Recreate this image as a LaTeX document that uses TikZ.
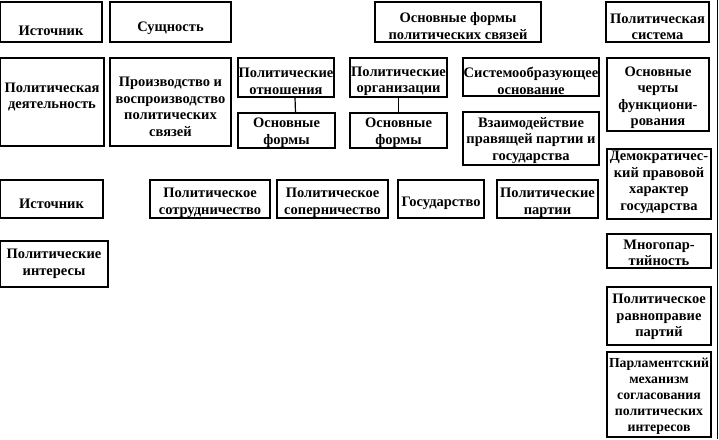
\documentclass[tikz,border=0pt]{standalone}
\usepackage{fontspec}
\setmainfont{Liberation Serif}
\usepackage{tikz}
\usetikzlibrary{calc}

\tikzset{
  blok/.style={draw, line width=1.2pt, align=center, inner xsep=0.5pt, inner ysep=0.5pt,
    font=\fontsize{14.5}{16.5}\selectfont\bfseries},
  niz/.style={execute at begin node={\rule{0pt}{#1}}},
  verh/.style={execute at end node={\rule[-#1]{0pt}{#1}}},
}

\begin{document}
\begin{tikzpicture}[x=1pt, y=-1pt]
        \useasboundingbox (0,0) rectangle (719,439);

        \node[blok, niz=28pt, minimum width=102, minimum height=40] (ist1) at (51,22) {Источник};
        \node[blok, niz=22pt, minimum width=121, minimum height=40] (sush) at (170.5,22) {Сущность};
        \node[blok, niz=34.5pt, minimum width=166, minimum height=40] (formy) at (458,22) {Основные формы\\политических связей};
        \node[blok, niz=36pt, minimum width=103, minimum height=40] (sist) at (657.5,22) {Политическая\\система};

        \node[blok, verh=12pt, minimum width=104, minimum height=88] (deyat) at (52,102) {Политическая\\деятельность};
        \node[blok, niz=68.5pt, minimum width=121, minimum height=88] (proizv) at (170.5,102) {Производство и\\воспроизводство\\политических\\связей};
        \node[blok, niz=33.5pt, minimum width=96, minimum height=39] (otn) at (286,77.5) {Политические\\отношения};
        \node[blok, niz=33.5pt, minimum width=97, minimum height=39] (org) at (398.5,77.5) {Политические\\организации};
        \node[blok, niz=34.5pt, minimum width=136, minimum height=38] (osnov) at (531,77) {Системообразующее\\основание};
        \node[blok, niz=65.5pt, minimum width=102, minimum height=73] (cherty) at (658,94.5) {Основные\\черты\\функциони-\\рования};

        \node[blok, niz=30.5pt, minimum width=97, minimum height=35] (otnf) at (286.5,130.5) {Основные\\формы};
        \node[blok, niz=30.5pt, minimum width=97, minimum height=35] (orgf) at (398.5,130.5) {Основные\\формы};
        \node[blok, niz=47pt, minimum width=136, minimum height=53] (vzaim) at (531,138.5) {Взаимодействие\\правящей партии и\\государства};
        \node[blok, verh=7pt, minimum width=104, minimum height=70] (demokr) at (659,184) {Демократичес-\\кий правовой\\характер\\государства};

        \node[blok, niz=20pt, minimum width=103, minimum height=38] (ist2) at (51.5,199) {Источник};
        \node[blok, niz=33.5pt, minimum width=120, minimum height=38] (sotr) at (210,199) {Политическое\\сотрудничество};
        \node[blok, niz=33.5pt, minimum width=111, minimum height=38] (soper) at (332.5,199) {Политическое\\соперничество};
        \node[blok, niz=18pt, minimum width=86, minimum height=38] (gos) at (441,199) {Государство};
        \node[blok, niz=33.5pt, minimum width=101, minimum height=38] (partii) at (547.5,199) {Политические\\партии};

        \node[blok, niz=29.5pt, minimum width=104, minimum height=34] (mnogo) at (659,251) {Многопар-\\тийность};
        \node[blok, minimum width=108, minimum height=46] (inter) at (54,264) {Политические\\интересы};
        \node[blok, niz=45pt, minimum width=104, minimum height=58] (ravno) at (659,316) {Политическое\\равноправие\\партий};
        \node[blok, niz=77pt, minimum width=104, minimum height=85, font=\fontsize{13.8}{16}\selectfont\bfseries] (parl) at (659,394.5) {Парламентский\\механизм\\согласования\\политических\\интересов};

        \draw[line width=1.2pt] ([xshift=9pt]otn.south) -- ([xshift=9pt]otnf.north);
        \draw[line width=1.2pt] (org.south) -- (orgf.north);

        \coordinate (kraj1) at (717.5,0);
        \coordinate (kraj2) at (717.5,439);
        \draw[line width=1.2pt] (kraj1) -- (kraj2);

    \end{tikzpicture}
\end{document}
